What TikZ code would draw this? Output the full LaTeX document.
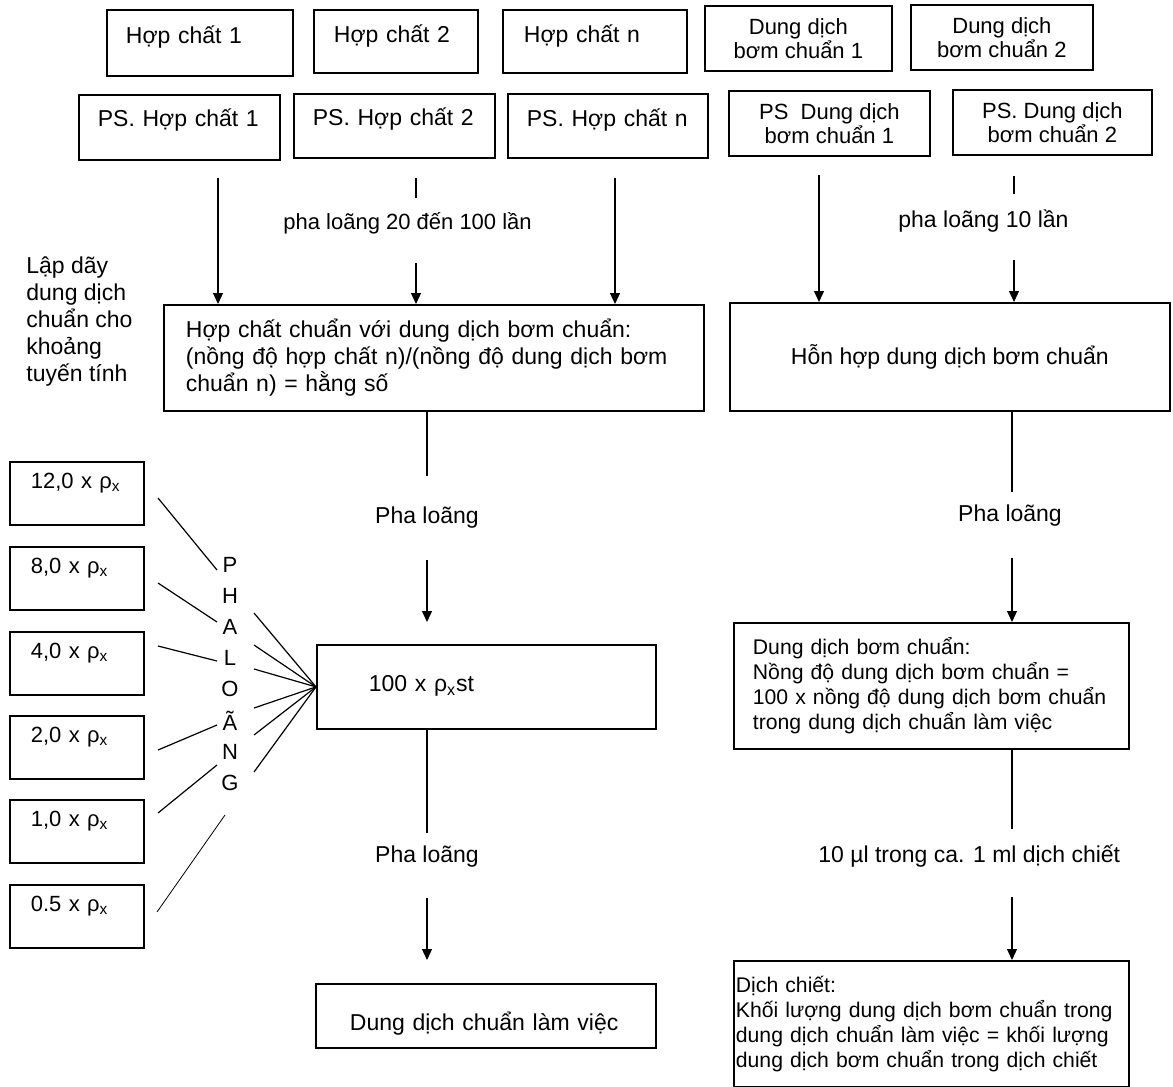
\documentclass[tikz,border=0pt]{standalone}
\usepackage{fontspec}
\setmainfont{Liberation Sans}
\usetikzlibrary{arrows.meta}
\begin{document}
\begin{tikzpicture}[x=0.5pt, y=-0.5pt] % toa do theo pixel
\tikzstyle{hbox} = [draw, line width=0.9pt, anchor=north west, inner ysep=0pt, align=left, font=\fontsize{11.5}{13.5}\selectfont] % khung, chu lech trai
\tikzstyle{cbox} = [draw, line width=0.9pt, anchor=north west, align=center, font=\fontsize{11}{12}\selectfont] % khung, chu o giua
\tikzstyle{txt} = [inner sep=0pt, align=left, font=\fontsize{11.5}{13.5}\selectfont] % chu tu do
\tikzstyle{ln} = [line width=0.6pt]
\tikzstyle{arr} = [ln, -{Triangle[length=5.5pt,width=5pt]}]
\useasboundingbox (0,0) rectangle (1173,1087);

% hang tren
\node[hbox, text width=74pt, inner xsep=9.5pt, text height=17pt, text depth=16pt] (hc1) at (106,9) {Hợp chất 1};
\node[hbox, text width=62pt, inner xsep=10pt, text height=16.5pt, text depth=15pt] (hc2) at (313,9) {Hợp chất 2};
\node[hbox, text width=71pt, inner xsep=10.5pt, text height=16.5pt, text depth=15pt] (hcn) at (502,9) {Hợp chất n};
\node[cbox, minimum width=93.5pt, minimum height=32.5pt] (dd1) at (704,5) {Dung dịch\\bơm chuẩn 1};
\node[cbox, minimum width=91pt, minimum height=32.5pt] (dd2) at (910,4) {Dung dịch\\bơm chuẩn 2};

% hang PS
\node[hbox, text width=81.5pt, inner xsep=9.5pt, text height=16pt, text depth=16.5pt] (ps1) at (78,94) {PS. Hợp chất 1};
\node[hbox, text width=81.5pt, inner xsep=9.5pt, text height=16pt, text depth=16pt] (ps2) at (293,93) {PS. Hợp chất 2};
\node[hbox, text width=81pt, inner xsep=9.5pt, text height=16.5pt, text depth=15.5pt] (psn) at (507,93) {PS. Hợp chất n};
\node[cbox, minimum width=100.5pt, minimum height=32.5pt] (psd1) at (728,90) {PS\ \ Dung dịch\\bơm chuẩn 1};
\node[cbox, minimum width=99.5pt, minimum height=32.5pt] (psd2) at (952,89) {PS. Dung dịch\\bơm chuẩn 2};

% mui ten xuong
\coordinate (a1) at (218,178);
\draw[arr] (a1) -- (a1 |- 0,304);
\coordinate (t2) at (416,178);
\draw[ln] (t2) -- ++(0,20);
\node[txt, anchor=west, font=\fontsize{11}{13}\selectfont] (pl20) at (283,223) {pha loãng 20 đến 100 lần};
\coordinate (a2) at (416,263);
\coordinate (a3) at (615,178);
\coordinate (a4) at (819,175);
\coordinate (t5) at (1014,176);
\draw[ln] (t5) -- ++(0,18);
\node[txt, anchor=west] (pl10) at (898,221) {pha loãng 10 lần};
\coordinate (a5) at (1014,260);

\node[txt, anchor=west] (lap) at (26,322) {Lập dãy\\dung dịch\\chuẩn cho\\khoảng\\tuyến tính};

% hai khung giua
\node[hbox, text width=248pt, inner xsep=11pt, minimum height=53pt] (chuan) at (163,304) {Hợp chất chuẩn với dung dịch bơm chuẩn:\\(nồng độ hợp chất n)/(nồng độ dung dịch bơm\\chuẩn n) = hằng số};
\node[cbox, minimum width=220pt, minimum height=54pt, font=\fontsize{11.5}{13.5}\selectfont] (hhop) at (729,302) {Hỗn hợp dung dịch bơm chuẩn};
\draw[arr] (a2) -- (a2 |- chuan.north);
\draw[arr] (a3) -- (a3 |- chuan.north);
\draw[arr] (a4) -- (a4 |- hhop.north);
\draw[arr] (a5) -- (a5 |- hhop.north);

% cot giua
\node[txt] (pl1) at (427,518) {Pha loãng};
\node[hbox, text width=117.5pt, inner xsep=26pt, text height=23.5pt, text depth=18.5pt] (ptx) at (316,644) {100 x ρ\textsubscript{x}st};
\node[txt] (pl2) at (427,857) {Pha loãng};
\node[hbox, text width=136pt, inner xsep=17pt, text height=23.5pt, text depth=8.5pt] (ddlv) at (315,983) {Dung dịch chuẩn làm việc};
\coordinate (m1) at (427,476);
\draw[ln] (m1 |- chuan.south) -- (m1);
\coordinate (m2) at (427,560);
\draw[arr] (m2) -- ([yshift=11pt]m2 |- ptx.north);
\coordinate (m4) at (427,833);
\draw[ln] (m4 |- ptx.south) -- (m4);
\coordinate (m5) at (427,898);
\draw[arr] (m5) -- ([yshift=11.5pt]m5 |- ddlv.north);

% cot phai
\node[txt] (pl3) at (1010,516) {Pha loãng};
\node[hbox, text width=178.5pt, inner xsep=9.5pt, minimum height=63pt, font=\fontsize{10.6}{12.5}\selectfont] (ddbc) at (733,622) {Dung dịch bơm chuẩn:\\Nồng độ dung dịch bơm chuẩn =\\100 x nồng độ dung dịch bơm chuẩn\\trong dung dịch chuẩn làm việc};
\node[txt, anchor=west] (ul) at (818,856) {10 µl trong ca. 1 ml dịch chiết};
\node[hbox, text width=195.5pt, inner xsep=1pt, minimum height=63pt, font=\fontsize{10.6}{12.5}\selectfont] (dchiet) at (733,960) {Dịch chiết:\\Khối lượng dung dịch bơm chuẩn trong\\dung dịch chuẩn làm việc = khối lượng\\dung dịch bơm chuẩn trong dịch chiết};
\coordinate (r1) at (1012,492);
\draw[ln] (r1 |- hhop.south) -- (r1);
\coordinate (r2) at (1012,558);
\draw[arr] (r2) -- (r2 |- ddbc.north);
\coordinate (r3) at (1012,829);
\draw[ln] (r3 |- ddbc.south) -- (r3);
\coordinate (r4) at (1012,897);
\draw[arr] (r4) -- (r4 |- dchiet.north);

% day chuan ben trai
\foreach \y/\v [count=\i] in {461/{12,0}, 546/{8,0}, 631/{4,0}, 715/{2,0}, 799/{1,0}, 884/{0.5}}
  \node[hbox, text width=46pt, inner xsep=10.5pt, text height=13.4pt, text depth=18.1pt, font=\fontsize{11}{13}\selectfont] (c\i) at (9,\y) {\v{} x ρ\textsubscript{x}};

% chu PHA LOANG doc
\foreach \l [count=\i from 0] in {P,H,A,L,O,Ã,N,G}
  \node[txt, font=\fontsize{11}{13}\selectfont] (l\i) at (230,{565+31.1*\i}) {\l};

% cac nhanh
\foreach \ya/\yb [count=\k] in {498/570, 583/622, 646/661, 750/725, 813/765} {
  \coordinate (s\k) at (158,\ya);
  \coordinate (e\k) at (217,\yb);
  \draw[ln] (s\k) -- (e\k);
}
\coordinate (s6) at (157,912);
\coordinate (e6) at (225,815);
\draw[line width=0.4pt] (s6) -- (e6);
\foreach \y [count=\k] in {613,645,669,708,735,772} {
  \coordinate (f\k) at (254,\y);
  \draw[ln] (f\k) -- (ptx.west);
}
\end{tikzpicture}
\end{document}
